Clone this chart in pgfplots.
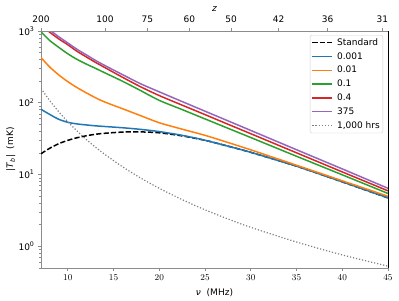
\documentclass[border=0pt]{standalone}
\usepackage{pgfplots}
\pgfplotsset{compat=1.18}
\usepackage{fontspec}
\setmainfont{DejaVu Sans}
\definecolor{mplblue}{HTML}{1F77B4}
\definecolor{mplorange}{HTML}{FF7F0E}
\definecolor{mplgreen}{HTML}{2CA02C}
\definecolor{mplred}{HTML}{D62728}
\definecolor{mplpurple}{HTML}{9467BD}
\definecolor{spine}{HTML}{8C8C8C}
\begin{document}
\fontsize{9bp}{11bp}\selectfont
\begin{tikzpicture}
\useasboundingbox (-41bp,-33bp) rectangle (358bp,268bp);
\begin{axis}[
  name=main,
  scale only axis, width=347bp, height=237bp,
  xmin=7.0667, xmax=45, ymode=log, ymin=0.5, ymax=1000,
  xtick={10,15,20,25,30,35,40,45},
  ytick={1,10,100,1000},
  yticklabels={10\textsuperscript{0},10\textsuperscript{1},10\textsuperscript{2},10\textsuperscript{3}},
  minor ytick={0.5,0.6,0.7,0.8,0.9,2,3,4,5,6,7,8,9,20,30,40,50,60,70,80,90,200,300,400,500,600,700,800,900},
  tick pos=left,
  tick align=outside,
  major tick length=3.3bp, minor tick length=1.9bp,
  axis line style={draw=spine, line width=0.8bp},
  every tick/.style={draw=spine, line width=0.8bp},
  minor tick style={line width=0.6bp},
  tick label style={font=\fontsize{9bp}{11bp}\selectfont, text=black},
  xticklabel style={anchor=north, yshift=0bp},
  yticklabel style={xshift=0bp},
  xlabel={\textit{ν} \ (MHz)},
  ylabel={|\textit{T}\textsubscript{\textit{b}}| \ (mK)},
  xlabel style={at={(axis description cs:0.5,-0.105)}, anchor=center, font=\fontsize{9bp}{11bp}\selectfont},
  ylabel style={at={(axis description cs:-0.087,0.5)}, anchor=center, font=\fontsize{9bp}{11bp}\selectfont},
  legend cell align=left,
  legend style={at={(axis description cs:0.9856,0.983)}, anchor=north east,
    draw=black!18, rounded corners=2bp, fill=white, fill opacity=0.8, text opacity=1,
    font=\fontsize{9bp}{11bp}\selectfont, inner sep=1.5bp, row sep=1.8bp,
    nodes={inner sep=1.5bp, text height=7bp, text depth=2bp},
    /tikz/every odd column/.append style={column sep=3bp}},
  legend image code/.code={\draw[#1] (0bp,0bp) -- (19.5bp,0bp);},
]
\addplot[black, line width=1.5bp, smooth, dash pattern=on 5.2bp off 2.2bp] coordinates {
(7.0667,19.5) (8,23.2) (9,26.9) (10,30.0) (11,32.6) (12,34.7) (13,36.4) (14,37.6)
(16,39.1) (18,39.3) (20,38.2) (22.5,34.6) (25,30.0) (27.5,24.9) (30,20.4) (35,13.1) (40,7.92) (45,4.73)};
\addlegendentry{Standard}
\addplot[mplblue, line width=1.5bp, smooth] coordinates {
(7.0667,81.1) (8,69.1) (9,59.0) (10,53.5) (11,50.8) (12,49.2) (13,47.8) (14,46.8)
(16,44.9) (18,42.6) (20,39.7) (22.5,35.2) (25,30.1) (27.5,24.9) (30,20.4) (35,13.1) (40,7.94) (45,4.75)};
\addlegendentry{0.001}
\addplot[mplorange, line width=1.5bp, smooth] coordinates {
(7.0667,427) (8,317) (9,245) (10,197) (11,163) (12,138) (13,118) (14,103)
(16,82.5) (18,65.9) (20,52.7) (22.5,42.9) (25,35.2) (27.5,28.0) (30,22.1) (35,13.5) (40,8.2) (45,4.99)};
\addlegendentry{0.01}
\addplot[mplgreen, line width=1.5bp, smooth] coordinates {
(7.0667,975) (8,741) (9,593) (10,481) (11,403) (12,347) (13,303) (14,263)
(16,199) (18,147) (20,108) (22.5,80.4) (25,59.6) (27.5,44.2) (30,32.8) (35,18.0) (40,9.93) (45,5.46)};
\addlegendentry{0.1}
\addplot[mplred, line width=1.5bp, smooth] coordinates {
(7.0667,1197) (8,966) (9,778) (10,643) (11,522) (12,437) (13,367) (14,312)
(16,226) (18,166) (20,126) (22.5,92.7) (25,68.4) (27.5,50.3) (30,37.1) (35,20.1) (40,10.9) (45,5.94)};
\addlegendentry{0.4}
\addplot[mplpurple, line width=1.5bp, smooth] coordinates {
(7.0667,1300) (8,1040) (9,833) (10,681) (11,556) (12,467) (13,391) (14,333)
(16,246) (18,183) (20,142) (22.5,104) (25,76.4) (27.5,56.1) (30,41.2) (35,22.2) (40,12.0) (45,6.44)};
\addlegendentry{375}
\addplot[gray, line width=1.2bp, smooth, dash pattern=on 1.2bp off 1.9bp] coordinates {
(7.0667,159) (8,108) (9,75.2) (10,54.4) (11,40.6) (12,31.0) (13,24.2) (14,19.3)
(16,12.8) (18,8.9) (20,6.44) (22.5,4.48) (25,3.23) (27.5,2.41) (30,1.84) (35,1.15) (40,0.76) (45,0.53)};
\addlegendentry{1,000 hrs}
\end{axis}
\begin{axis}[
  scale only axis, width=347bp, height=237bp,
  xmin=7.0667, xmax=45, ymode=log, ymin=0.5, ymax=1000,
  axis x line*=top, axis y line=none,
  xtick={7.0667,14.063,18.689,23.285,27.851,33.033,38.389,44.388},
  xticklabels={200,100,75,60,50,42,36,31},
  tick align=outside, major tick length=3.3bp,
  axis line style={draw=spine, line width=0.8bp, -},
  every tick/.style={draw=spine, line width=0.8bp},
  tick label style={font=\fontsize{9bp}{11bp}\selectfont, text=black},
  xticklabel style={yshift=1.9bp},
  xlabel={\textit{z}},
  xlabel style={at={(axis description cs:0.5,1.093)}, anchor=center, font=\fontsize{9bp}{11bp}\selectfont},
]
\end{axis}
\draw[black, line width=0.8bp] (main.south east) -- (main.north east);
\end{tikzpicture}
\end{document}
